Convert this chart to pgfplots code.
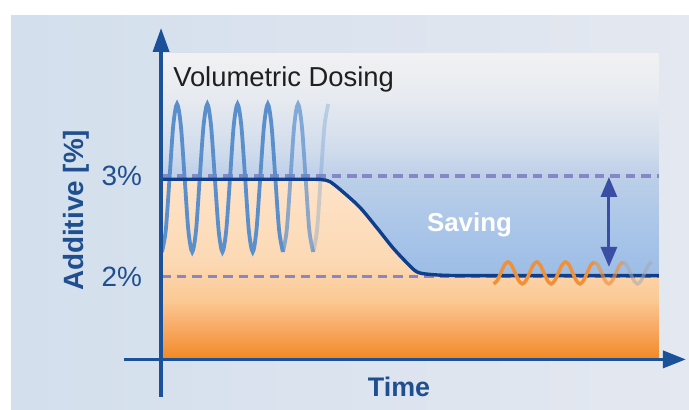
\documentclass[border=0pt]{standalone}
\usepackage{pgfplots}
\pgfplotsset{compat=1.18}
\usepackage{fontspec}
\setmainfont{Liberation Sans}
\usetikzlibrary{arrows.meta}

\definecolor{axisblue}{HTML}{1A5199}
\definecolor{textblue}{HTML}{1F4F8F}
\definecolor{curveblue}{HTML}{0F3F8C}
\definecolor{sineblue}{HTML}{5B8FCC}
\definecolor{dashcol}{HTML}{8587C6}
\definecolor{arrowcol}{HTML}{3A4EA3}
\definecolor{orangeline}{HTML}{F0913A}
\definecolor{fadegray}{HTML}{A8A8B0}
\definecolor{bgleft}{HTML}{D3DFED}
\definecolor{bgright}{HTML}{E4E8F0}
% blue panel stops
\definecolor{bpA}{HTML}{9DBDE6}
\definecolor{bpB}{HTML}{A9C5E8}
\definecolor{bpC}{HTML}{BCCFE8}
\definecolor{bpD}{HTML}{D0DCEC}
\definecolor{bpE}{HTML}{E6EAF0}
\definecolor{bpF}{HTML}{F1F1F3}
% orange stops
\definecolor{orA}{HTML}{F28A25}
\definecolor{orB}{HTML}{F59D4C}
\definecolor{orC}{HTML}{F9B272}
\definecolor{orD}{HTML}{FBC994}
\definecolor{orE}{HTML}{FCD9B4}
\definecolor{orF}{HTML}{FDE3C9}

\pgfdeclareverticalshading{bluepanel}{100bp}{color(0bp)=(bpA); color(25bp)=(bpA); color(38.4bp)=(bpA); color(46bp)=(bpB); color(54.8bp)=(bpC); color(59.2bp)=(bpD); color(67.4bp)=(bpE); color(75bp)=(bpF); color(100bp)=(bpF)}
\pgfdeclareverticalshading{orangearea}{100bp}{color(0bp)=(orA); color(25bp)=(orA); color(30bp)=(orB); color(35.6bp)=(orC); color(41.2bp)=(orD); color(52.4bp)=(orE); color(75bp)=(orF); color(100bp)=(orF)}

\begin{document}
\begin{tikzpicture}
\begin{axis}[
  scale only axis, width=689bp, height=410bp,
  xmin=0, xmax=689, ymin=0.6763, ymax=4.7478,
  axis on top,
  axis line style={draw=none},
  xtick=\empty, ytick={2,3}, yticklabels={2\%,3\%},
  major tick length=0pt,
  yticklabel style={anchor=east, inner sep=0pt, xshift=142bp,
    font=\fontsize{28}{32}\selectfont, text=textblue},
  xlabel={Time}, ylabel={Additive [\%]},
  xlabel style={at={(axis description cs:0.5791,0.0324)}, anchor=base,
    font=\fontsize{27}{32}\selectfont\bfseries, text=textblue},
  ylabel style={at={(axis description cs:0.1205,0.4866)}, anchor=base, rotate=0,
    font=\fontsize{28}{32}\selectfont\bfseries, text=textblue},
]
% backgrounds
\addplot[draw=none, fill=white] coordinates {(0,0.6763) (689,0.6763) (689,4.7478) (0,4.7478)};
\addplot[draw=none, left color=bgleft, right color=bgright] coordinates {(11,0.6763) (689,0.6763) (689,4.5889) (11,4.5889)};
\addplot[draw=none, shade, shading=bluepanel] coordinates {(161,1.1926) (659,1.1926) (659,4.2115) (161,4.2115)};
% orange area below the dosing curve
\addplot[draw=none, shade, shading=orangearea] coordinates {
 (161,2.967) (320,2.967) (330,2.943) (343,2.841) (351,2.765) (360,2.687) (368,2.590) (377,2.484) (385,2.385) (393,2.285)
 (400,2.205) (407,2.136) (412,2.085) (417,2.047) (423,2.030) (430,2.022) (445,2.014) (460,2.010) (659,2.010)
 (659,1.1926) (161,1.1926)};
% dashed reference lines
\addplot[dashcol, line width=3.4bp, dash pattern=on 9.5bp off 6bp] coordinates {(161,3) (659,3)};
\addplot[dashcol, line width=3.4bp, dash pattern=on 9.5bp off 6bp] coordinates {(161,2) (659,2)};
% volumetric oscillation
\addplot[sineblue, line width=3.8bp, smooth] coordinates {
 (161.9,2.245) (165.7,2.460) (169.5,2.980) (173.2,3.500) (177.0,3.715) (180.8,3.500) (184.6,2.980) (188.3,2.460)
 (192.2,2.245) (196.0,2.460) (199.7,2.980) (203.5,3.500) (207.3,3.715) (211.0,3.500) (214.8,2.980) (218.6,2.460)
 (222.4,2.245) (226.2,2.460) (230.0,2.980) (233.7,3.500) (237.5,3.715) (241.3,3.500) (245.1,2.980) (248.8,2.460)
 (252.7,2.245) (256.4,2.460) (260.2,2.980) (264.0,3.500) (267.8,3.715) (271.5,3.500) (275.3,2.980) (279.1,2.460)
 (282.9,2.245)};
\addplot[sineblue, line width=3.8bp, smooth, opacity=0.7] coordinates {
 (282.9,2.245) (286.7,2.460) (290.5,2.980) (294.2,3.500) (298.0,3.715) (301.8,3.500) (305.6,2.980) (309.3,2.460)
 (313.2,2.245)};
\addplot[sineblue, line width=3.8bp, smooth, opacity=0.3] coordinates {
 (313.2,2.245) (317.0,2.460) (320.7,2.980) (324.5,3.500) (328.3,3.715)};
% dosing curve
\addplot[curveblue, line width=3.4bp, smooth, tension=0.5] coordinates {
 (161,2.967) (250,2.967) (312,2.967) (322,2.963) (330,2.943) (343,2.841) (360,2.687) (377,2.484) (393,2.285)
 (407,2.136) (417,2.047) (430,2.022) (460,2.010) (560,2.010) (659,2.010)};
% gravimetric oscillation
\addplot[orangeline, line width=3.5bp, smooth] coordinates {
 (493.6,1.928) (497.2,1.960) (500.8,2.037) (504.4,2.114) (508.0,2.146) (511.6,2.114) (515.2,2.037) (518.8,1.960)
 (522.4,1.928) (526.0,1.960) (529.6,2.037) (533.2,2.114) (536.8,2.146) (540.4,2.114) (544.0,2.037) (547.6,1.960)
 (551.2,1.928) (554.8,1.960) (558.4,2.037) (562.0,2.114) (565.6,2.146) (569.2,2.114) (572.8,2.037) (576.4,1.960)
 (580.0,1.928) (583.6,1.960) (587.2,2.037) (590.8,2.114) (594.4,2.146)};
\addplot[orangeline, line width=3.5bp, smooth, opacity=0.65] coordinates {
 (594.4,2.146) (598.0,2.114) (601.6,2.037) (605.2,1.960) (608.8,1.928) (612.4,1.960) (616.0,2.037) (619.6,2.114) (623.2,2.146)};
\addplot[fadegray, line width=3.5bp, smooth, opacity=0.55] coordinates {
 (623.2,2.146) (626.8,2.114) (630.4,2.037) (634.0,1.960) (637.6,1.928) (641.2,1.960) (644.8,2.037) (648.4,2.114) (652.0,2.146)};
% saving arrow
\addplot[arrowcol, line width=3bp, {Triangle[length=20bp,width=16bp]}-{Triangle[length=20bp,width=16bp]}] coordinates {(609,2.990) (609,2.096)};
% axes
\addplot[axisblue, line width=3.6bp, -{Triangle[length=23bp,width=17bp]}] coordinates {(124,1.1778) (686,1.1778)};
\addplot[axisblue, line width=3.6bp, -{Triangle[length=24bp,width=16bp]}] coordinates {(161,0.8054) (161,4.4697)};
% texts
\node[anchor=base west, inner sep=0pt, text=black!88, font=\fontsize{27.5}{32}\selectfont] at (axis cs:173,3.887) {Volumetric Dosing};
\node[anchor=base, inner sep=0pt, text=white, font=\fontsize{26}{30}\selectfont\bfseries] at (axis cs:469.5,2.444) {Saving};
\end{axis}
\end{tikzpicture}
\end{document}
